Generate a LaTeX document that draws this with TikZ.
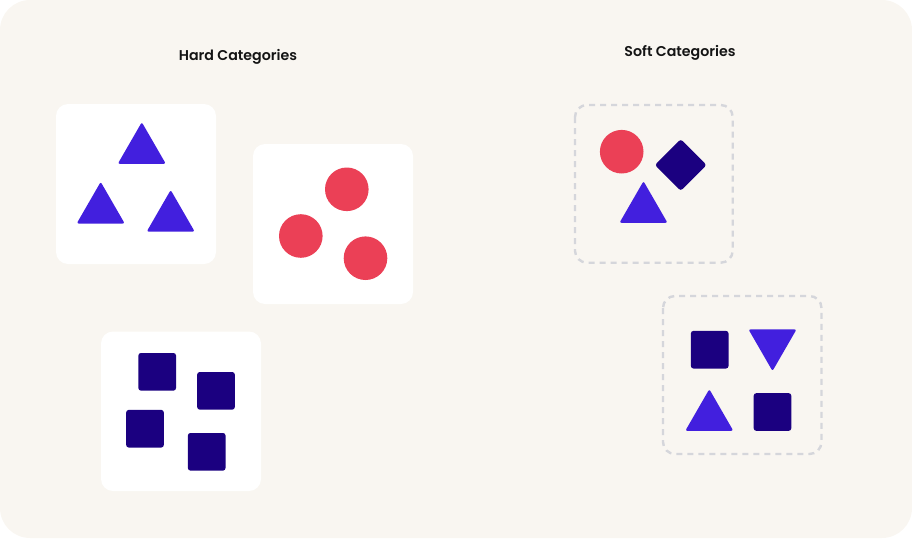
\documentclass[tikz,border=0pt]{standalone}
\usepackage{fontspec}
\setmainfont{Poppins}
\newfontfamily\titlefont{Poppins SemiBold}
\definecolor{bgc}{HTML}{F9F6F1}
\definecolor{triblue}{HTML}{421FDE}
\definecolor{navy}{HTML}{1B0080}
\definecolor{redc}{HTML}{EB4056}
\definecolor{dashc}{HTML}{D5D6DB}
\tikzset{
  whitebox/.style={fill=white, rounded corners=12},
  dashbox/.style={draw=dashc, line width=2.4, dash pattern=on 6 off 5, rounded corners=12},
  title/.style={font=\titlefont\fontsize{14.2}{16}\selectfont, text=black!92},
  pics/tri/.style={code={\fill[triblue, rounded corners=2] (-24,20.8) -- (0,-20.8) -- (24,20.8) -- cycle;}},
  pics/itri/.style={code={\fill[triblue, rounded corners=2] (-24,-20.8) -- (0,20.8) -- (24,-20.8) -- cycle;}},
  pics/sq/.style={code={\fill[navy, rounded corners=2.5] (-18.8,-18.8) rectangle (18.8,18.8);}},
  pics/dot/.style={code={\fill[redc] (0,0) circle (21.8);}},
  pics/dia/.style={code={\fill[navy, rounded corners=2.5] (-25.8,0) -- (0,-25.8) -- (25.8,0) -- (0,25.8) -- cycle;}}
}
\begin{document}
\begin{tikzpicture}[x=1pt,y=-1pt]
\useasboundingbox (0,0) rectangle (912,538);
\fill[bgc, rounded corners=30] (0,0) rectangle (912,538);
% titles
\node[title] (hard) at (238,57) {Hard Categories};
\node[title] (soft) at (680,53.2) {Soft Categories};
% hard boxes
\fill[whitebox] (56,104) rectangle (216,264);
\fill[whitebox] (253,144) rectangle (413,304);
\fill[whitebox] (101,331.5) rectangle (261,491);
% triangles box 1
\pic at (141.8,143) {tri};
\pic at (100.7,202.7) {tri};
\pic at (170.7,210.8) {tri};
% circles box 2
\pic at (346.8,189.3) {dot};
\pic at (300.8,236) {dot};
\pic at (365.5,258.2) {dot};
% squares box 3
\pic at (157.2,371.8) {sq};
\pic at (216,390.8) {sq};
\pic at (145,428.7) {sq};
\pic at (206.7,451.8) {sq};
% soft boxes
\draw[dashbox] (575,105) rectangle (732.7,262.7);
\draw[dashbox] (663,296) rectangle (821.5,454);
\pic at (621.7,151.7) {dot};
\pic at (680.7,165) {dia};
\pic at (643.5,202) {tri};
\pic at (709.7,349.7) {sq};
\pic at (772.5,350.2) {itri};
\pic at (709.3,410) {tri};
\pic at (772.5,412) {sq};
\end{tikzpicture}
\end{document}
